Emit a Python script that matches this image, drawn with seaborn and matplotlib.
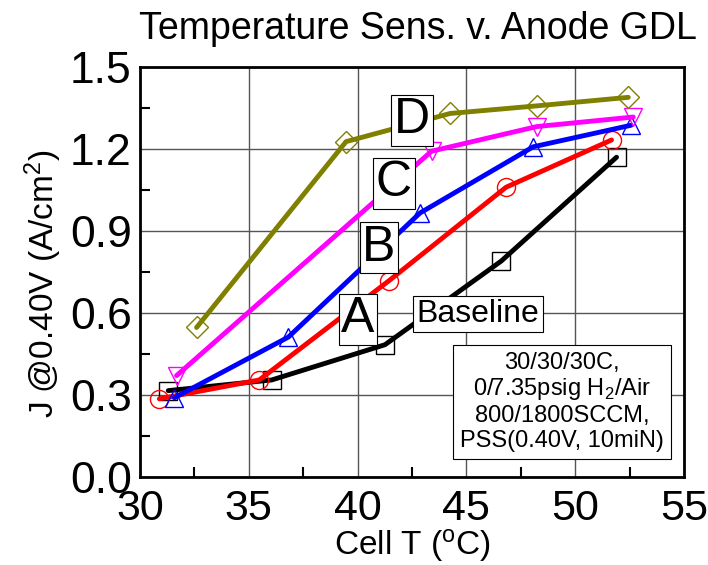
import matplotlib
matplotlib.use("Agg")
import matplotlib.pyplot as plt
import seaborn as sns
import pandas as pd
from matplotlib.ticker import MultipleLocator

sns.set_theme(style="white")
plt.rcParams['font.family'] = ['Liberation Sans', 'DejaVu Sans']
plt.rcParams['mathtext.fontset'] = 'custom'
plt.rcParams['mathtext.rm'] = 'Liberation Sans'
for k in ['text.color', 'axes.labelcolor', 'xtick.color', 'ytick.color']:
    plt.rcParams[k] = 'black'

# data
base_x = [31.3, 36.05, 41.26, 46.6, 51.9]
base_y = [0.316, 0.355, 0.484, 0.79, 1.17]
a_x = [30.89, 35.48, 41.44, 46.82, 51.67]
a_y = [0.286, 0.355, 0.718, 1.06, 1.233]
b_x = [31.58, 36.82, 42.87, 48.07, 52.57]
b_y = [0.29, 0.512, 0.966, 1.208, 1.287]
c_x = [31.68, 43.4, 48.23, 52.67]
c_y = [0.371, 1.192, 1.282, 1.317]
d_x = [32.6, 39.47, 44.25, 48.26, 52.44]
d_y = [0.547, 1.227, 1.33, 1.358, 1.389]

series = [
    ("Baseline", base_x, base_y, "black", "s"),
    ("A", a_x, a_y, "#ff0000", "o"),
    ("B", b_x, b_y, "#0000ff", "^"),
    ("C", c_x, c_y, "#ff00ff", "v"),
    ("D", d_x, d_y, "#808000", "D"),
]

fig = plt.figure(figsize=(7.08, 5.65), dpi=100)
ax = fig.add_axes([140/708, 1-477/565, (684-140)/708, (477-67)/565])

for name, xs, ys, col, mk in series:
    df = pd.DataFrame({"x": xs, "y": ys})
    sns.lineplot(data=df, x="x", y="y", ax=ax, color=col, lw=3.5, sort=False,
                 marker=mk, markersize=13 if mk != "D" else 11, markerfacecolor="none",
                 markeredgecolor=col, markeredgewidth=1.0, zorder=3)

ax.set_xlim(30, 55)
ax.set_ylim(0, 1.5)
ax.xaxis.set_minor_locator(MultipleLocator(2.5))
ax.yaxis.set_minor_locator(MultipleLocator(0.15))
ax.set_xticks([30, 35, 40, 45, 50, 55])
ax.set_xticklabels(["30", "35", "40", "45", "50", "55"])
ax.set_yticks([0.0, 0.3, 0.6, 0.9, 1.2, 1.5])
ax.set_yticklabels(["0.0", "0.3", "0.6", "0.9", "1.2", "1.5"])
ax.tick_params(axis="y", which="major", direction="in", length=0, labelsize=32, pad=6)
ax.tick_params(axis="x", which="major", direction="in", length=0, labelsize=31, pad=9)
ax.tick_params(axis="both", which="minor", direction="in", length=7, width=1.5)
ax.tick_params(left=True, bottom=True, which="minor")
ax.grid(True, which="major", color="#555555", lw=1.0)
for s in ax.spines.values():
    s.set_linewidth(2)
    s.set_color("black")

ax.set_xlabel("Cell T ($\\mathregular{^o}$C)", fontsize=24, va="bottom")
ax.xaxis.set_label_coords(0.5, (477 - 564) / 410)
ax.set_ylabel("J @0.40V (A/cm$\\mathregular{^2}$)", fontsize=24, va="center")
ax.yaxis.set_label_coords((43 - 140) / 544, (477 - 284) / 410)
ax.set_title("Temperature Sens. v. Anode GDL", fontsize=27, pad=20, x=0.51)

box = dict(boxstyle="square,pad=0.05", facecolor="white", edgecolor="black", lw=0.8)
for lbl, tx, ty in [("D", 42.5, 1.305), ("C", 41.67, 1.074), ("B", 40.98, 0.838), ("A", 40.02, 0.577)]:
    ax.text(tx, ty, lbl, fontsize=36, ha="center", va="center", bbox=box, zorder=5)
ax.text(45.53, 0.596, "Baseline", fontsize=23, ha="center", va="center",
        bbox=dict(boxstyle="square,pad=0.1", facecolor="white", edgecolor="black", lw=0.8), zorder=5)
ax.text(49.39, 0.276, "30/30/30C,\n0/7.35psig H$_2$/Air\n800/1800SCCM,\nPSS(0.40V, 10miN)",
        fontsize=17, ha="center", va="center", linespacing=1.15,
        bbox=dict(boxstyle="square,pad=0.3", facecolor="white", edgecolor="black", lw=0.8), zorder=5)

fig.savefig("out.png", dpi=100)
